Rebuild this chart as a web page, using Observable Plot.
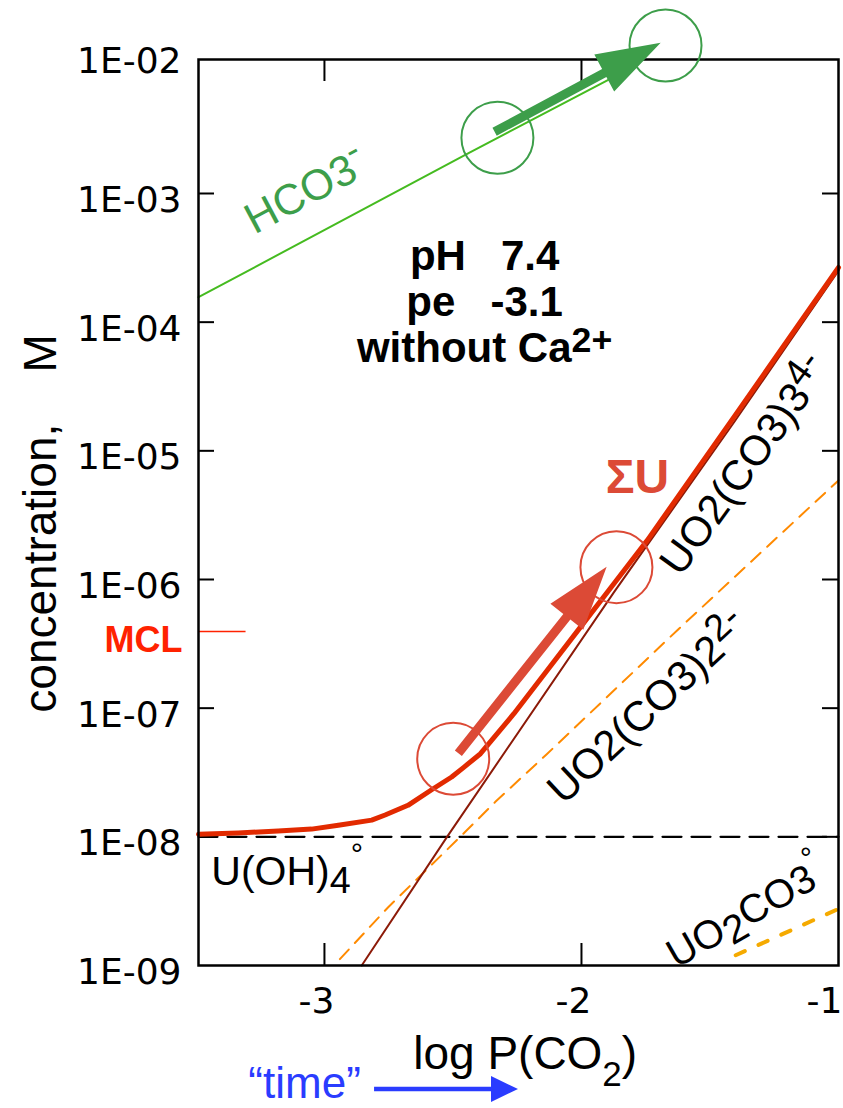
<!DOCTYPE html>
<html><head><meta charset="utf-8">
<script src="https://cdn.jsdelivr.net/npm/d3@7"></script>
<script src="https://cdn.jsdelivr.net/npm/@observablehq/plot@0.6"></script>
<style>body{margin:0;background:#fff}</style>
</head><body><div id="chart"></div>
<script>
// ---- axis ticks ----
const xTicks = [-3, -2, -1];
const xTickLabels = ["-3", "-2", "-1"];
const yTicks = [1e-9, 1e-8, 1e-7, 1e-6, 1e-5, 1e-4, 1e-3, 1e-2];
const yTickLabels = ["1E-09", "1E-08", "1E-07", "1E-06", "1E-05", "1E-04", "1E-03", "1E-02"];

// ---- series (x = log P(CO2), values = log10 concentration M) ----
const sumULogP = [-3.49, -3.335, -3.18, -3.05, -2.946, -2.816, -2.764, -2.675, -2.58, -2.505, -2.458, -2.393, -2.263, -2.133, -2.004, -1.874, -1.744, -1.407, -1.0];
const sumULogC = [-7.98, -7.97, -7.955, -7.94, -7.91, -7.87, -7.83, -7.755, -7.63, -7.535, -7.46, -7.354, -7.043, -6.706, -6.37, -6.033, -5.696, -4.738, -3.575];
const uo2co33LogP = [-2.855, -2.523, -1.874, -1.407, -1.0];
const uo2co33LogC = [-9.0, -8.0, -6.10, -4.78, -3.60];
const uo2co32LogP = [-2.94, -2.751, -2.453, -2.336, -2.133, -1.628, -1.0];
const uo2co32LogC = [-8.95, -8.545, -7.963, -7.73, -7.354, -6.396, -5.23];
const uo2co3LogP = [-1.4, -1.0];
const uo2co3LogC = [-8.92, -8.56];
const hco3LogP = [-3.49, -2.443, -1.851];
const hco3LogC = [-3.806, -2.69, -2.07];
const uoh4LogP = [-3.49, -1.0];
const uoh4LogC = [-8.0, -8.0];
const mclLogC = -6.404;
const mclLineLogP = [-3.49, -3.305];

// ---- circles and arrows ([logP, logC]) ----
const hco3Circles = [[-2.327, -2.567], [-1.673, -1.85]];
const uCircles = [[-2.499, -7.394], [-1.864, -5.904]];
const hco3Arrow = [[[-2.336, -2.524], [-1.690, -1.832]]];
const uArrow = [[[-2.477, -7.354], [-1.900, -5.904]]];
const timeArrowLogP = [-2.805, -2.245];

// ---- annotations ----
const annoText = ["HCO3-", "pH\u00a0\u00a0\u00a07.4", "pe\u00a0\u00a0\u00a0-3.1", "without Ca2+", "\u03a3U", "UO2(CO3)34-", "UO2(CO3)22-", "UO2CO3\u00b0", "U(OH)4\u00b0"];
const annoLogP = [-3.272, -2.377, -2.377, -2.377, -1.782, -1.362, -1.739, -1.358, -3.44];
const annoLogC = [-3.32, -3.598, -3.956, -4.313, -5.324, -5.114, -7.0, -8.596, -8.378];
const yLabel = "concentration,\u00a0\u00a0\u00a0\u00a0M";
const xLabel = "log P(CO2)";
const xLabelLogP = -2.219;
const mclText = "MCL";
const timeText = "\u201ctime\u201d";
const timeLogP = -3.296;

// rich text: [piece, baseline shift px, size factor]
const rich = {
  "HCO3-": [["HCO3", 0, 1], ["-", -17, 0.85]],
  "without Ca2+": [["without Ca", 0, 1], ["2+", -10, 0.85]],
  "UO2(CO3)34-": [["UO2(CO3)3", 0, 1], ["4-", -13, 0.9]],
  "UO2(CO3)22-": [["UO2(CO3)2", 0, 1], ["2-", -13, 0.9]],
  "UO2CO3\u00b0": [["UO", 0, 1], ["2", 8, 1], ["CO3", 0, 1], ["\u00b0", -20, 0.75]],
  "U(OH)4\u00b0": [["U(OH)", 0, 1], ["4", 8, 0.92], ["\u00b0", -20, 0.75]],
  "log P(CO2)": [["log P(CO", 0, 1], ["2", 17, 0.76], [")", 0, 1]]
};

// ---- build rows ----
const rows = (xs, ls) => xs.map((x, i) => ({x, c: 10 ** ls[i]}));
const pt = ([x, l]) => ({x, c: 10 ** l});
const anno = annoText.map((t, i) => ({t, x: annoLogP[i], c: 10 ** annoLogC[i]}));

const W = 843, H = 1108, mL = 198, mR = 5, mT = 59, mB = 143;
const fw = W - mL - mR, fh = H - mT - mB;

const green = "#3d9e4a", greenLine = "#45bb20", red = "#e22a00", darkRed = "#8c1a08",
      pale = "#dc4a36", orange = "#ff8a00", amber = "#f5aa00", blue = "#2a3cff";

function arrowPath(X1, Y1, X2, Y2, shaft, hl, hh) {
  const dx = X2 - X1, dy = Y2 - Y1, L = Math.hypot(dx, dy);
  const ux = dx / L, uy = dy / L, nx = -uy, ny = ux, w = shaft / 2;
  const bx = X2 - ux * hl, by = Y2 - uy * hl;
  const p = [[X1 + nx * w, Y1 + ny * w], [bx + nx * w, by + ny * w], [bx + nx * hh, by + ny * hh], [X2, Y2],
             [bx - nx * hh, by - ny * hh], [bx - nx * w, by - ny * w], [X1 - nx * w, Y1 - ny * w]];
  return "M" + p.map(q => q[0].toFixed(2) + "," + q[1].toFixed(2)).join("L") + "Z";
}
function solidArrows(arrows, {fill, shaft, hl, hh}) {
  return (index, {x, y}) => {
    const g = d3.create("svg:g").attr("fill", fill);
    for (const [[x1, l1], [x2, l2]] of arrows)
      g.append("path").attr("d", arrowPath(x(x1), y(10 ** l1), x(x2), y(10 ** l2), shaft, hl, hh));
    return g.node();
  };
}
function timeArrow(index, {x}, values, {height, marginBottom}) {
  const yb = height - marginBottom + 124;
  const g = d3.create("svg:g").attr("fill", blue);
  g.append("path").attr("d", arrowPath(x(timeArrowLogP[0]), yb, x(timeArrowLogP[1]), yb, 4.5, 27, 13));
  return g.node();
}

const fmtY = d => yTickLabels[yTicks.indexOf(d)];
const fmtX = d => xTickLabels[xTicks.indexOf(d)];
const tickFont = {fontSize: 36, fontFamily: "DejaVu Sans", label: null};

const chart = Plot.plot({
  width: W, height: H, marginLeft: mL, marginRight: mR, marginTop: mT, marginBottom: mB,
  x: {domain: [-3.49, -1.0]},
  y: {type: "log", domain: [1e-9, 0.011]},
  style: {fontFamily: "'Liberation Sans', Arial, sans-serif", background: "#fff", color: "#000", overflow: "visible"},
  marks: [
    Plot.axisY(yTicks.slice(0, 7), {anchor: "left", tickSize: 0, tickPadding: 17, dy: 7, tickFormat: fmtY, ...tickFont}),
    Plot.axisY(yTicks.slice(7), {anchor: "left", tickSize: 0, tickPadding: 17, dy: -3, tickFormat: fmtY, ...tickFont}),
    Plot.axisX(xTicks.slice(0, 2), {anchor: "bottom", tickSize: 0, tickPadding: 22, dx: -8, tickFormat: fmtX, ...tickFont}),
    Plot.axisX(xTicks.slice(2), {anchor: "bottom", tickSize: 0, tickPadding: 22, dx: -14, tickFormat: fmtX, ...tickFont}),
    // inward ticks
    Plot.tickY(yTicks.slice(1, 7), {y: d => d, insetRight: fw - 16, strokeWidth: 2}),
    Plot.tickY(yTicks.slice(1, 7), {y: d => d, insetLeft: fw - 16, strokeWidth: 2}),
    Plot.tickX(xTicks.slice(0, 2), {x: d => d, insetTop: fh - 22, strokeWidth: 2}),
    Plot.tickX(xTicks.slice(0, 2), {x: d => d, insetBottom: fh - 22, strokeWidth: 2}),
    // series
    Plot.line(rows(hco3LogP, hco3LogC), {x: "x", y: "c", stroke: greenLine, strokeWidth: 2}),
    Plot.line(rows(uoh4LogP, uoh4LogC), {x: "x", y: "c", stroke: "#000", strokeWidth: 2.2, strokeDasharray: "19,10"}),
    Plot.line(rows(uo2co32LogP, uo2co32LogC), {x: "x", y: "c", stroke: orange, strokeWidth: 2, strokeDasharray: "13,9"}),
    Plot.line(rows(uo2co3LogP, uo2co3LogC), {x: "x", y: "c", stroke: amber, strokeWidth: 4, strokeDasharray: "10,15", strokeLinecap: "round"}),
    Plot.line(rows(uo2co33LogP, uo2co33LogC), {x: "x", y: "c", stroke: darkRed, strokeWidth: 2}),
    Plot.line(rows(sumULogP, sumULogC), {x: "x", y: "c", stroke: red, strokeWidth: 5, strokeLinejoin: "round"}),
    Plot.ruleY([mclLogC], {y: d => 10 ** d, x1: () => mclLineLogP[0], x2: () => mclLineLogP[1], stroke: "#ff2200", strokeWidth: 1.5}),
    Plot.frame({stroke: "#000", strokeWidth: 2.5}),
    // circles & arrows
    Plot.dot(hco3Circles.map(pt), {x: "x", y: "c", r: 36, stroke: green, strokeWidth: 2, fill: "none"}),
    Plot.dot(uCircles.map(pt), {x: "x", y: "c", r: 36, stroke: pale, strokeWidth: 2, fill: "none"}),
    solidArrows(hco3Arrow, {fill: green, shaft: 9, hl: 64, hh: 21}),
    solidArrows(uArrow, {fill: pale, shaft: 9, hl: 64, hh: 21}),
    timeArrow,
    // annotations
    Plot.text([anno[0]], {x: "x", y: "c", text: "t", rotate: -28, textAnchor: "start", lineAnchor: "bottom", fontSize: 43, fill: green}),
    Plot.text(anno.slice(1, 4), {x: "x", y: "c", text: "t", textAnchor: "middle", lineAnchor: "bottom", fontSize: 42, fontWeight: "bold", fill: "#000"}),
    Plot.text([anno[4]], {x: "x", y: "c", text: "t", textAnchor: "middle", lineAnchor: "bottom", fontSize: 48, fontWeight: "bold", fill: pale}),
    Plot.text([anno[5]], {x: "x", y: "c", text: "t", rotate: -54, textAnchor: "middle", lineAnchor: "middle", fontSize: 42, fill: "#000"}),
    Plot.text([anno[6]], {x: "x", y: "c", text: "t", rotate: -43, textAnchor: "middle", lineAnchor: "middle", fontSize: 42, fill: "#000"}),
    Plot.text([anno[7]], {x: "x", y: "c", text: "t", rotate: -30, textAnchor: "middle", lineAnchor: "middle", fontSize: 40, fill: "#000"}),
    Plot.text([anno[8]], {x: "x", y: "c", text: "t", textAnchor: "start", lineAnchor: "bottom", fontSize: 41, fill: "#000"}),
    Plot.text([mclText], {frameAnchor: "left", y: () => 10 ** -6.567, dx: -16, textAnchor: "end", lineAnchor: "bottom", fontSize: 36, fontWeight: "bold", fill: "#ff2200"}),
    Plot.text([yLabel], {frameAnchor: "left", dx: -143, dy: 11, rotate: -90, textAnchor: "middle", lineAnchor: "bottom", fontSize: 46, fill: "#000"}),
    Plot.text([xLabel], {x: () => xLabelLogP, frameAnchor: "bottom", dy: 103, textAnchor: "middle", lineAnchor: "bottom", fontSize: 46, fill: "#000"}),
    Plot.text([timeText], {x: () => timeLogP, frameAnchor: "bottom", dy: 132, textAnchor: "start", lineAnchor: "bottom", fontSize: 44, fill: blue})
  ]
});

// rich text (sub/superscripts)
chart.querySelectorAll("text").forEach(t => {
  const spec = rich[t.textContent];
  if (!spec) return;
  t.textContent = "";
  let cur = 0;
  for (const [s, shift, f] of spec) {
    const ts = document.createElementNS("http://www.w3.org/2000/svg", "tspan");
    ts.textContent = s;
    if (shift !== cur) ts.setAttribute("dy", shift - cur);
    if (f !== 1) ts.style.fontSize = (f * 100) + "%";
    t.appendChild(ts);
    cur = shift;
  }
});
document.getElementById("chart").appendChild(chart);
</script>
</body></html>
